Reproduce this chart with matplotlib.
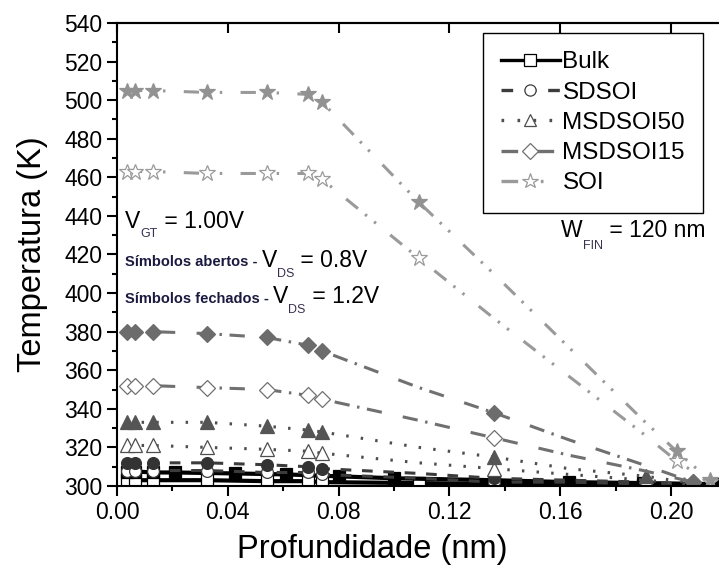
import numpy as np
import matplotlib
matplotlib.use("Agg")
import matplotlib.pyplot as plt
from matplotlib.lines import Line2D
from matplotlib.transforms import IdentityTransform
from matplotlib.ticker import MultipleLocator, FormatStrFormatter

plt.rcParams["font.family"] = ["Liberation Sans", "DejaVu Sans"]

# posicoes dos simbolos (nm)
x_near = [0.0036, 0.0066, 0.013, 0.0325, 0.054, 0.0688, 0.074]

# SOI
soi_x = x_near + [0.109, 0.136, 0.163, 0.190, 0.202, 0.214]
soi_hi = [505, 505, 505, 504, 504, 503, 499, 447, 410, 372, 334, 318, 303]
soi_lo = [463, 463, 463, 462, 462, 462, 459, 418, 387, 357, 327, 313, 302]
soi_mk = [0, 1, 2, 3, 4, 5, 6, 7, 11, 12]

# MSDSOI15
ms15_x = x_near + [0.109, 0.136, 0.163, 0.190, 0.208]
ms15_hi = [380, 380, 380, 379, 377, 373, 370, 351, 338, 324, 311, 302]
ms15_lo = [352, 352, 352, 351, 350, 347, 345, 334, 325, 316, 308, 302]
ms15_mk = [0, 1, 2, 3, 4, 5, 6, 8, 11]

# MSDSOI50
ms50_x = x_near + [0.109, 0.136, 0.163, 0.191, 0.205]
ms50_hi = [333, 333, 333, 333, 331, 329, 328, 320, 315, 309, 305, 302]
ms50_lo = [321, 321, 321, 320, 319, 318, 317, 312, 309, 306, 303, 301]
ms50_mk = [0, 1, 2, 3, 4, 5, 6, 8, 10]

# SDSOI
sd_x = x_near + [0.109, 0.136, 0.163, 0.191, 0.205]
sd_hi = [312, 312, 312, 312, 311, 310, 309, 306.5, 304, 303, 302, 301]
sd_lo = [308, 308, 308, 308, 307, 307, 306, 304, 302, 302, 301, 300.5]
sd_mk = [0, 1, 2, 3, 4, 5, 6, 8, 10]

# Bulk
bulk_x_hi = [0.0036, 0.0066, 0.013, 0.021, 0.0425, 0.061, 0.080, 0.100, 0.136, 0.163, 0.190, 0.215]
bulk_hi = [307.5, 307.5, 307, 307, 306.5, 306, 305, 304, 303, 302, 301.5, 301]
bulk_x_lo = x_near + [0.109, 0.136, 0.163, 0.190, 0.215]
bulk_lo = [303, 303, 303, 303, 302.5, 302.5, 302, 301.5, 301, 300.8, 300.5, 300.3]

series = [
    # nome, x cheio, y cheio, x aberto, y aberto, marcadores, simbolo, cor linha, cor cheia, estilo, tamanho, espessura
    ("Bulk", bulk_x_hi, bulk_hi, bulk_x_lo, bulk_lo, None, "s", "black", "black", "-", 8.5, 3.0),
    ("SDSOI", sd_x, sd_hi, sd_x, sd_lo, sd_mk, "o", "#3c3c3c", "#333333", (0, (3.5, 3.5)), 8.5, 2.2),
    ("MSDSOI50", ms50_x, ms50_hi, ms50_x, ms50_lo, ms50_mk, "^", "#4e4e4e", "#555555", (0, (0.8, 4)), 9.5, 2.2),
    ("MSDSOI15", ms15_x, ms15_hi, ms15_x, ms15_lo, ms15_mk, "D", "#707070", "#6c6c6c", (0, (5, 2.5, 0.8, 2.5, 5, 7)), 8.5, 2.2),
    ("SOI", soi_x, soi_hi, soi_x, soi_lo, soi_mk, "*", "#9a9a9a", "#929292", (0, (5, 3, 0.8, 3, 0.8, 6)), 12, 2.2),
]

fig = plt.figure(figsize=(7.19, 5.68), dpi=100)
ax = fig.add_axes([0.1627, 0.1444, 0.8373, 0.8151])

handles = []
for name, xh, yh, xl, yl, mk, sym, lc, fc, ls, ms, lw in series:
    ax.plot(xl, yl, color=lc, lw=lw, linestyle=ls, marker=sym, markevery=mk,
            markersize=ms, markerfacecolor="white", markeredgecolor=lc, markeredgewidth=0.9)
    ax.plot(xh, yh, color=lc, lw=lw, linestyle=ls, marker=sym, markevery=mk,
            markersize=ms, markerfacecolor=fc, markeredgecolor=fc, markeredgewidth=0.9)
    handles.append(Line2D([], [], color=lc, lw=2.4, linestyle=ls, marker=sym, markersize=ms * 0.95,
                          markerfacecolor="white", markeredgecolor=lc, markeredgewidth=0.9))

ax.set_xlim(0, 0.2173)
ax.set_ylim(300, 540)
ax.xaxis.set_major_locator(MultipleLocator(0.04))
ax.xaxis.set_minor_locator(MultipleLocator(0.02))
ax.xaxis.set_major_formatter(FormatStrFormatter("%.2f"))
ax.yaxis.set_major_locator(MultipleLocator(20))
ax.yaxis.set_minor_locator(MultipleLocator(10))
ax.tick_params(which="both", direction="out", labelsize=16.5, width=1.5)
ax.tick_params(which="major", length=7)
ax.tick_params(which="minor", length=3.5)
ax.spines["right"].set_visible(False)
for s in ["left", "bottom", "top"]:
    ax.spines[s].set_linewidth(1.5)

# eixo de cima: so tracos para dentro
top = ax.secondary_xaxis("top")
top.xaxis.set_major_locator(MultipleLocator(0.04))
top.tick_params(direction="in", length=7, width=1.5, labeltop=False)
top.spines["top"].set_linewidth(1.5)

ax.set_xlabel("Profundidade (nm)", fontsize=23.5)
ax.set_ylabel("Temperatura (K)", fontsize=23.5)
ax.xaxis.set_label_coords(0.4236, -0.104)
ax.yaxis.set_label_coords(-0.115, 0.50)


def rich_text(x0, y0, parts):
    # escreve pedacos em sequencia (pixels da figura, y para cima)
    renderer = fig.canvas.get_renderer()
    x = x0
    for s, size, dy, kw in parts:
        t = fig.text(x, y0 + dy, s, fontsize=size, va="baseline", ha="left",
                     transform=IdentityTransform(), **kw)
        x = t.get_window_extent(renderer).x1


H = 568
bold = dict(fontweight="bold", color="#1a1a40")
rich_text(125, H - 228, [("V", 16.5, 0, {}), ("GT", 9, -9, dict(color="#3a3050")),
                         (" = 1.00V", 16.5, 0, {})])
rich_text(125, H - 266, [("Símbolos abertos - ", 10.5, 0, bold), ("V", 16.5, -1, {}),
                         ("DS", 9, -11, dict(color="#3a3050")), (" = 0.8V", 16.5, -1, {})])
rich_text(125, H - 303, [("Símbolos fechados - ", 10.5, 0, bold), ("V", 16.5, 0, {}),
                         ("DS", 9, -10, dict(color="#3a3050")), (" = 1.2V", 16.5, 0, {})])
rich_text(561, H - 237, [("W", 16.5, 0, {}), ("FIN", 9, -12, dict(color="#3a3050")),
                         (" = 120 nm", 16.5, 0, {})])

leg = ax.legend(handles, [s[0] for s in series], loc="upper left",
                bbox_to_anchor=(483 / 719, 1 - 33 / 568), bbox_transform=fig.transFigure,
                borderaxespad=0, fontsize=17.5, frameon=True, fancybox=False, framealpha=1,
                edgecolor="black", handlelength=2.4, labelspacing=0.34,
                borderpad=0.75, handletextpad=0.12)
leg.get_frame().set_linewidth(1.0)

fig.savefig("out.png", dpi=100)
